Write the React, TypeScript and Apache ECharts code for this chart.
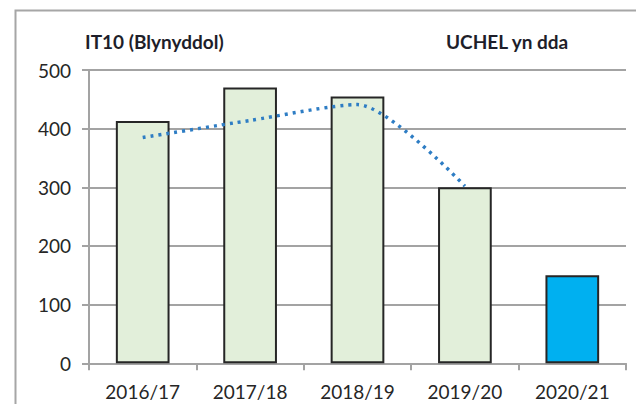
import React, { useEffect, useRef } from "react";
import * as echarts from "echarts";

const categories = ["2016/17", "2017/18", "2018/19", "2019/20", "2020/21"];
const barValues = [413, 470, 455, 300, 150];
const trendValues: (number | null)[] = [385, 414, 441, 302, null];
const yTicks = { min: 0, max: 500, interval: 100 };
const titleLeft = "IT10 (Blynyddol)";
const titleRight = "UCHEL yn dda";

const FONT = "Lato, 'Open Sans', sans-serif";

export default function App() {
  const ref = useRef<HTMLDivElement>(null);
  useEffect(() => {
    if (!ref.current) return;
    const chart = echarts.init(ref.current, undefined, { renderer: "svg" });
    const gridColor = "#a3a3a3";
    chart.setOption({
      animation: false,
      backgroundColor: "#ffffff",
      textStyle: { fontFamily: FONT },
      grid: { left: 89, right: 10, top: 70, bottom: 40.7, containLabel: false },
      graphic: [
        {
          type: "rect",
          shape: { x: 15.5, y: 10.5, width: 1000, height: 1000 },
          style: { fill: "none", stroke: "#a6a6a6", lineWidth: 2 },
          silent: true,
        },
        {
          type: "text",
          x: 85,
          y: 41,
          style: {
            text: titleLeft,
            fontFamily: FONT,
            fontWeight: "bold",
            fontSize: 19,
            fill: "#1e1e2a",
            textVerticalAlign: "middle",
          },
        },
        {
          type: "text",
          x: 446,
          y: 41,
          style: {
            text: titleRight,
            fontFamily: FONT,
            fontWeight: "bold",
            fontSize: 19,
            fill: "#1e1e2a",
            textVerticalAlign: "middle",
          },
        },
      ],
      xAxis: {
        type: "category",
        data: categories,
        boundaryGap: true,
        axisLine: { show: true, lineStyle: { color: gridColor, width: 2 } },
        axisTick: { show: true, interval: 0, length: 7, lineStyle: { color: gridColor, width: 2 } },
        axisLabel: { margin: 19, fontSize: 19, color: "#262626", fontFamily: FONT, interval: 0 },
      },
      yAxis: {
        type: "value",
        min: yTicks.min,
        max: yTicks.max,
        interval: yTicks.interval,
        axisLine: { show: true, lineStyle: { color: gridColor, width: 2 } },
        axisTick: { show: true, length: 7, lineStyle: { color: gridColor, width: 2 } },
        splitLine: { show: true, lineStyle: { color: gridColor, width: 2 } },
        axisLabel: { margin: 18, fontSize: 19, color: "#262626", fontFamily: FONT },
      },
      series: [
        {
          type: "bar",
          barWidth: "50%",
          data: barValues.map((v, i) => ({
            value: v,
            itemStyle:
              i === barValues.length - 1
                ? { color: "#00B0F0", borderColor: "#262626", borderWidth: 2 }
                : { color: "#E2EFDA", borderColor: "#262626", borderWidth: 2 },
          })),
          z: 2,
        },
        {
          type: "line",
          data: trendValues,
          smooth: 0.25,
          showSymbol: false,
          symbol: "none",
          connectNulls: false,
          lineStyle: { color: "#2E7DC4", width: 3.5, type: [3, 5], cap: "butt" },
          z: 3,
        },
      ],
    });
    return () => chart.dispose();
  }, []);
  return (
    <div
      ref={ref}
      style={{ position: "absolute", left: 0, top: 0, width: 636, height: 404 }}
    />
  );
}
